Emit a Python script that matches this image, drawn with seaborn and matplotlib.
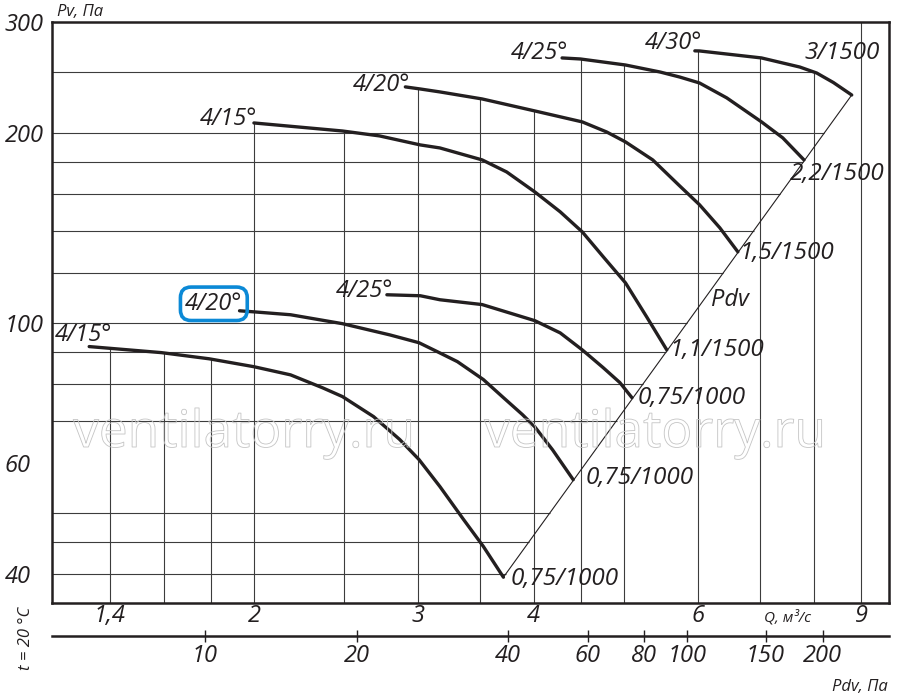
import numpy as np
import pandas as pd
import matplotlib
matplotlib.use("Agg")
import matplotlib.pyplot as plt
import matplotlib.patheffects as pe
from matplotlib.ticker import NullLocator
from matplotlib import font_manager as fm
import seaborn as sns

# Fan curves: Q in m3/s, Pv in Pa
# 1000 rpm group
q_415_lo = [1.33, 1.59, 1.79, 2.0, 2.19, 2.37, 2.49, 2.69, 2.87, 3.01, 3.17, 3.36, 3.53, 3.71]
p_415_lo = [91.7, 89.7, 87.7, 85.2, 82.7, 78.9, 76.4, 71.0, 65.3, 60.7, 55.0, 48.8, 44.2, 39.5]
q_420_lo = [1.93, 2.0, 2.19, 2.49, 2.80, 3.01, 3.15, 3.31, 3.53, 3.71, 3.89, 4.01, 4.19, 4.41]
p_420_lo = [104.5, 104.1, 103.0, 99.7, 95.7, 93.0, 90.0, 86.8, 81.3, 76.1, 71.5, 68.4, 62.9, 56.4]
q_425_lo = [2.78, 3.02, 3.17, 3.52, 4.01, 4.27, 4.51, 4.75, 4.95, 5.10]
p_425_lo = [110.8, 110.4, 108.8, 106.9, 100.8, 96.4, 90.6, 84.9, 80.4, 76.1]
# 1500 rpm group
q_415_hi = [2.0, 2.49, 2.73, 3.02, 3.17, 3.52, 3.74, 4.01, 4.27, 4.51, 4.75, 5.02, 5.29, 5.56]
p_415_hi = [207.5, 201.5, 197.9, 191.5, 189.4, 181.3, 173.5, 161.3, 150.0, 139.4, 127.3, 115.7, 102.2, 90.6]
q_420_hi = [2.91, 3.02, 3.17, 3.52, 4.01, 4.51, 4.79, 5.02, 5.37, 5.74, 6.03, 6.34, 6.63]
p_420_hi = [236.7, 234.9, 232.4, 226.5, 216.8, 208.3, 200.8, 193.6, 181.3, 164.9, 153.9, 141.5, 129.6]
q_425_hi = [4.29, 4.49, 5.02, 5.47, 5.74, 6.03, 6.45, 7.03, 7.41, 7.81]
p_425_hi = [263.1, 262.1, 256.4, 249.9, 245.4, 240.1, 227.4, 208.3, 196.5, 181.3]
q_430_hi = [5.96, 6.03, 7.03, 7.73, 8.06, 8.40, 8.79]
p_430_hi = [270.0, 269.9, 263.1, 254.5, 249.0, 240.5, 229.8]

start_labels = ["4/15°", "4/20°", "4/25°", "4/15°", "4/20°", "4/25°", "4/30°"]
end_labels = ["0,75/1000", "0,75/1000", "0,75/1000", "1,1/1500", "1,5/1500", "2,2/1500", "3/1500"]

q_ticks = [1.4, 2, 3, 4, 6, 9]
q_tick_labels = ["1,4", "2", "3", "4", "6", "9"]
p_ticks = [300, 200, 100, 60, 40]
p_tick_labels = ["300", "200", "100", "60", "40"]
q_grid = [1.4, 1.6, 1.8, 2, 2.5, 3, 3.5, 4, 4.5, 5, 6, 7, 8, 9]
p_grid = [40, 45, 50, 70, 80, 90, 100, 120, 140, 160, 180, 200, 250]

# dynamic pressure scale under the chart (positions read in Q units)
pdv_tick_labels = ["10", "20", "40", "60", "80", "100", "150", "200"]
pdv_tick_q = [1.77, 2.58, 3.75, 4.57, 5.25, 5.84, 7.10, 8.18]

q_lim = (1.213, 9.64)
p_lim = (35.95, 300)


def pick_italic(names):
    for name in names:
        for f in fm.fontManager.ttflist:
            if f.name == name and f.style == "italic":
                return name
    return "DejaVu Sans"


sns.set_style("white")
fam = pick_italic(["Open Sans", "Noto Sans", "Lato", "Roboto", "Liberation Sans"])
plt.rcParams["font.family"] = [fam, "DejaVu Sans"]
plt.rcParams["font.style"] = "italic"

INK = "#231f20"
GRID = "#3c3c3c"
W, H = 900, 697


def fx(px):
    return px / W


def fy(py):
    return 1 - py / H


curves = [
    (q_415_lo, p_415_lo), (q_420_lo, p_420_lo), (q_425_lo, p_425_lo),
    (q_415_hi, p_415_hi), (q_420_hi, p_420_hi), (q_425_hi, p_425_hi), (q_430_hi, p_430_hi),
]
df = pd.concat(
    [pd.DataFrame({"Q": q, "P": p, "curve": i}) for i, (q, p) in enumerate(curves)],
    ignore_index=True,
)

fig = plt.figure(figsize=(9, 6.97), dpi=100)
ax = fig.add_axes([fx(52), fy(603), fx(889) - fx(52), fy(22) - fy(603)])
ax.set_xscale("log")
ax.set_yscale("log")
ax.set_xlim(*q_lim)
ax.set_ylim(*p_lim)

# Pdv line joins the ends of the lowest and highest curves
diag_q = np.array([q_415_lo[-1], q_430_hi[-1]])
diag_p = np.array([p_415_lo[-1], p_430_hi[-1]])


def q_on_diag(pv):
    return np.exp(np.interp(np.log(pv), np.log(diag_p), np.log(diag_q)))


def right_end(pv):
    qs = []
    if diag_p[0] <= pv <= diag_p[1]:
        qs.append(q_on_diag(pv))
    for q, p in curves:
        if min(p) <= pv <= max(p):
            qs.append(np.exp(np.interp(np.log(pv), np.log(p[::-1]), np.log(q[::-1]))))
    return max(qs) if qs else q_lim[1]


def top_end(qv):
    ps = [np.exp(np.interp(np.log(qv), np.log(q), np.log(p)))
          for q, p in curves if q[0] <= qv <= q[-1]]
    return max(ps) if ps else p_lim[1]


ax.hlines(p_grid, q_lim[0], [right_end(v) for v in p_grid], color=GRID, lw=0.8, zorder=1)
ax.vlines(q_grid, p_lim[0], [top_end(v) for v in q_grid], color=GRID, lw=0.8, zorder=1)
ax.plot(diag_q, diag_p, color=INK, lw=0.8, zorder=2)

sns.lineplot(data=df, x="Q", y="P", units="curve", estimator=None, sort=False,
             color=INK, lw=2.4, legend=False, ax=ax, zorder=3,
             solid_joinstyle="round")

start_offsets = [(23, 12), (3, 7), (6, 4), (3, 4), (5, 2), (6, 5), (7, 8)]
end_offsets = [(7, -2), (12, 2), (6, 0), (3, 0), (2, -1), (-14, -14), (-10, 42)]
for i, (q, p) in enumerate(curves):
    box = None
    if i == 1:
        box = dict(boxstyle="round,pad=0.2,rounding_size=0.45", fc="none", ec="#0b89d6", lw=2.6)
    ax.annotate(start_labels[i], xy=(q[0], p[0]), xytext=start_offsets[i],
                textcoords="offset pixels", ha="right", va="center",
                fontsize=17, color=INK, bbox=box, zorder=5)
    ax.annotate(end_labels[i], xy=(q[-1], p[-1]), xytext=end_offsets[i],
                textcoords="offset pixels", ha="center" if i == 6 else "left",
                va="center", fontsize=17.5, color=INK, zorder=5)

ax.set_xticks(q_ticks, labels=q_tick_labels)
ax.set_yticks(p_ticks, labels=p_tick_labels)
ax.xaxis.set_minor_locator(NullLocator())
ax.yaxis.set_minor_locator(NullLocator())
ax.tick_params(axis="x", length=0, pad=1, labelsize=17, colors=INK)
ax.tick_params(axis="y", length=0, pad=34, labelsize=17, colors=INK)
for t in ax.get_yticklabels():
    t.set_horizontalalignment("left")
ax.set_xlabel("")
ax.set_ylabel("")
for s in ax.spines.values():
    s.set_linewidth(1.8)
    s.set_color(INK)

sec = ax.secondary_xaxis(-(636 - 603) / 581)
sec.set_xticks(pdv_tick_q, labels=pdv_tick_labels)
sec.xaxis.set_minor_locator(NullLocator())
sec.tick_params(direction="inout", length=8, width=1, pad=2, labelsize=17, colors=INK)
sec.spines["bottom"].set_linewidth(1.8)
sec.spines["bottom"].set_color(INK)

fig.text(fx(80), fy(12), "Pv, Па", ha="center", va="center", fontsize=12, color=INK)
fig.text(fx(788), fy(618), "Q, м³/с", ha="center", va="center", fontsize=11, color=INK)
fig.text(fx(860), fy(687), "Pdv, Па", ha="center", va="center", fontsize=12, color=INK)
fig.text(fx(26), fy(638), "t = 20 °C", ha="center", va="center", rotation=90, fontsize=12, color=INK)
fig.text(fx(730), fy(300), "Pdv", ha="center", va="center", fontsize=17, color=INK)

# watermark, outlined letters only
for cx in (244, 655):
    fig.text(fx(cx), fy(447), "ventilatorry.ru", ha="center", va="baseline",
             fontsize=37, style="normal", weight="normal", color=(1, 1, 1, 0),
             path_effects=[pe.Stroke(linewidth=0.6, foreground="#c4c4c4")], zorder=10)

fig.savefig("out.png", dpi=100)
